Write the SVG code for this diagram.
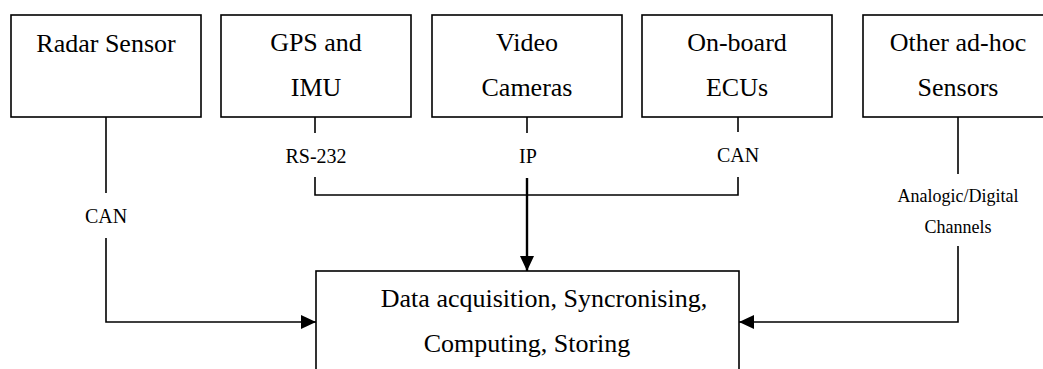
<svg xmlns="http://www.w3.org/2000/svg" width="1043" height="369" viewBox="0 0 1043 369">
<style>
.box{fill:#fff;stroke:#000;stroke-width:1.6}
.t{font-family:"Liberation Serif","Times New Roman",serif;font-size:26px;fill:#000;text-anchor:middle}
.l{font-family:"Liberation Serif","Times New Roman",serif;font-size:20px;fill:#000;text-anchor:middle}
.s{font-family:"Liberation Serif","Times New Roman",serif;font-size:18px;fill:#000;text-anchor:middle}
.c{fill:none;stroke:#000;stroke-width:1.6}
.ct{fill:none;stroke:#000;stroke-width:2.4}
</style>
<defs>
<marker id="ah" markerUnits="userSpaceOnUse" markerWidth="16" markerHeight="14" refX="15" refY="7" orient="auto">
<path d="M0,0 L15,7 L0,14 Z" fill="#000"/>
</marker>
</defs>
<rect width="1043" height="369" fill="#fff"/>
<g id="radar">
<rect class="box" x="11" y="15" width="190" height="102"/>
<text class="t" x="106" y="52">Radar Sensor</text>
</g>
<g id="gps">
<rect class="box" x="221" y="15" width="190" height="102"/>
<text class="t" x="316" y="51">GPS and</text>
<text class="t" x="316" y="96">IMU</text>
</g>
<g id="video">
<rect class="box" x="432" y="15" width="190" height="102"/>
<text class="t" x="527" y="51">Video</text>
<text class="t" x="527" y="96">Cameras</text>
</g>
<g id="ecu">
<rect class="box" x="642" y="15" width="190" height="102"/>
<text class="t" x="737" y="51">On-board</text>
<text class="t" x="737" y="96">ECUs</text>
</g>
<g id="other">
<rect class="box" x="863" y="15" width="190" height="102"/>
<text class="t" x="958" y="51">Other ad-hoc</text>
<text class="t" x="958" y="96">Sensors</text>
</g>
<g id="daq">
<rect class="box" x="316" y="271" width="423" height="120"/>
<text class="t" x="544" y="307">Data acquisition, Syncronising,</text>
<text class="t" x="527" y="352">Computing, Storing</text>
</g>
<g id="connectors">
<path class="c" d="M106,117 V193"/>
<path class="c" d="M106,238 V322 H316" marker-end="url(#ah)"/>
<text class="l" x="106" y="223">CAN</text>
<path class="c" d="M315,117 V133"/>
<path class="c" d="M315,177 V195 H738 V177"/>
<path class="c" d="M738,117 V132"/>
<text class="l" x="316" y="163">RS-232</text>
<text class="l" x="738" y="162">CAN</text>
<path class="c" d="M527,117 V133"/>
<text class="l" x="528" y="163">IP</text>
<path class="ct" d="M527,178 V271" marker-end="url(#ah)"/>
<path class="c" d="M958,117 V174"/>
<path class="c" d="M958,246 V322 H739" marker-end="url(#ah)"/>
<text class="s" x="958" y="202">Analogic/Digital</text>
<text class="s" x="958" y="233">Channels</text>
</g>
</svg>
